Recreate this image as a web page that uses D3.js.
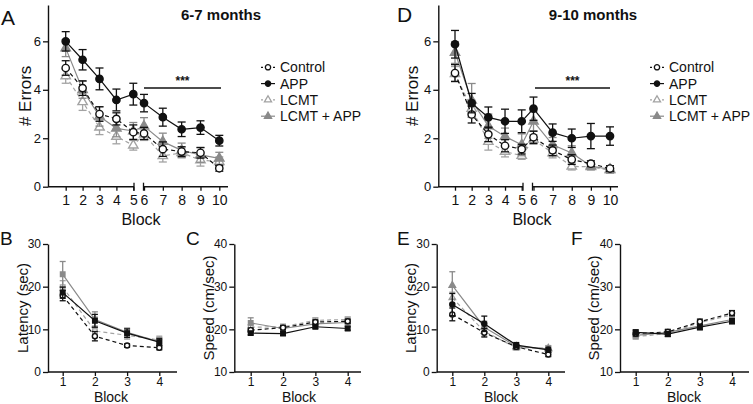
<!DOCTYPE html>
<html><head><meta charset="utf-8">
<script src="https://cdn.jsdelivr.net/npm/d3@7"></script>
<style>body{margin:0;background:#fff;} text{font-family:"Liberation Sans",Arial,sans-serif;fill:#111;}</style>
</head><body><svg id="c" width="753" height="404"></svg>
<script>
// ---------- data ----------
const groups = ["Control", "APP", "LCMT", "LCMT + APP"];
const groupColors = ["#111", "#111", "#a3a3a3", "#8a8a8a"];
const groupDash = ["4,3", null, "4,3", null];
const groupFilled = [false, true, false, true];
const topShapes = ["circle", "circle", "triangle", "triangle"];
const probeShapes = ["circle", "square", "square", "square"];
const drawOrder = [2, 3, 0, 1];

const blocksTraining = [1, 2, 3, 4, 5, 6, 7, 8, 9, 10];
const blocksProbe = [1, 2, 3, 4];
const ticksErrors = [0, 2, 4, 6];
const ticksLatency = [0, 10, 20, 30];
const ticksSpeed = [10, 20, 30, 40];

// Panel A: 6-7 months, # errors
const errA_Control = [4.9, 4.07, 3.0, 2.8, 2.25, 2.2, 1.55, 1.45, 1.4, 0.76];
const errA_APP = [6.0, 5.24, 4.45, 3.58, 3.82, 3.45, 2.87, 2.37, 2.44, 1.9];
const errA_LCMT = [4.57, 3.5, 2.45, 2.07, 1.71, 2.16, 1.27, 1.4, 1.1, 1.03];
const errA_LCMTAPP = [5.72, 4.0, 2.9, 2.41, 2.3, 2.5, 1.86, 1.5, 1.31, 1.17];
const semA_Control = [0.3, 0.3, 0.3, 0.25, 0.3, 0.25, 0.3, 0.2, 0.22, 0.12];
const semA_APP = [0.4, 0.42, 0.45, 0.45, 0.45, 0.36, 0.37, 0.3, 0.28, 0.22];
const semA_LCMT = [0.3, 0.35, 0.3, 0.3, 0.2, 0.25, 0.25, 0.2, 0.25, 0.2];
const semA_LCMTAPP = [0.35, 0.35, 0.4, 0.35, 0.35, 0.35, 0.35, 0.3, 0.3, 0.25];

// Panel D: 9-10 months, # errors
const errD_Control = [4.69, 2.98, 2.16, 1.69, 1.55, 2.04, 1.5, 1.12, 0.95, 0.75];
const errD_APP = [5.88, 3.45, 2.86, 2.7, 2.7, 3.22, 2.23, 2.0, 2.09, 2.09];
const errD_LCMT = [4.66, 3.22, 1.86, 1.45, 1.28, 1.95, 1.39, 0.84, 0.82, 0.68];
const errD_LCMTAPP = [5.54, 3.56, 2.5, 2.07, 1.73, 2.7, 1.73, 1.39, 0.85, 0.72];
const semD_Control = [0.35, 0.35, 0.3, 0.25, 0.2, 0.25, 0.22, 0.2, 0.12, 0.12];
const semD_APP = [0.57, 0.4, 0.43, 0.5, 0.47, 0.48, 0.36, 0.38, 0.52, 0.38];
const semD_LCMT = [0.3, 0.35, 0.35, 0.22, 0.15, 0.2, 0.2, 0.15, 0.12, 0.12];
const semD_LCMTAPP = [0.45, 0.7, 0.5, 0.35, 0.45, 0.4, 0.3, 0.3, 0.15, 0.15];

// Panel B: 6-7 months latency
const latB_Control = [17.9, 8.4, 6.2, 5.7];
const latB_APP = [18.6, 12.0, 9.1, 7.0];
const latB_LCMT = [19.9, 9.6, 8.6, 7.5];
const latB_LCMTAPP = [22.9, 12.3, 9.3, 7.1];
const semB_Control = [1.2, 1.1, 0.4, 0.5];
const semB_APP = [1.3, 1.5, 1.0, 0.8];
const semB_LCMT = [1.5, 1.2, 0.9, 0.9];
const semB_LCMTAPP = [3.0, 1.8, 1.0, 1.0];

// Panel C: 6-7 months speed
const spdC_Control = [19.8, 20.4, 21.7, 21.9];
const spdC_APP = [19.1, 19.0, 20.6, 20.2];
const spdC_LCMT = [20.5, 20.6, 22.1, 22.3];
const spdC_LCMTAPP = [21.5, 20.2, 21.3, 21.6];
const semC_Control = [0.5, 0.5, 0.5, 0.5];
const semC_APP = [0.4, 0.4, 0.4, 0.4];
const semC_LCMT = [0.6, 0.6, 0.6, 0.6];
const semC_LCMTAPP = [1.2, 0.6, 0.6, 0.6];

// Panel E: 9-10 months latency
const latE_Control = [13.5, 9.2, 5.9, 4.1];
const latE_APP = [15.8, 11.3, 6.3, 5.2];
const latE_LCMT = [17.4, 9.5, 5.7, 5.6];
const latE_LCMTAPP = [20.3, 10.5, 6.0, 5.4];
const semE_Control = [1.5, 1.0, 0.5, 0.5];
const semE_APP = [2.6, 1.8, 0.6, 0.6];
const semE_LCMT = [1.3, 1.1, 0.6, 0.6];
const semE_LCMTAPP = [3.2, 1.4, 0.6, 0.7];

// Panel F: 9-10 months speed
const spdF_Control = [19.0, 19.4, 21.8, 23.8];
const spdF_APP = [19.3, 18.9, 20.5, 21.9];
const spdF_LCMT = [18.3, 19.0, 21.6, 23.4];
const spdF_LCMTAPP = [18.6, 19.3, 20.8, 22.3];
const semF_Control = [0.6, 0.6, 0.6, 0.6];
const semF_APP = [0.6, 0.6, 0.6, 0.6];
const semF_LCMT = [0.6, 0.6, 0.6, 0.6];
const semF_LCMTAPP = [0.6, 0.6, 0.6, 0.6];

// ---------- drawing ----------
const svg = d3.select("#c");
const FONT = '"Liberation Sans", Arial, sans-serif';

function symPath(shape, size) {
  const t = shape === "circle" ? d3.symbolCircle : shape === "square" ? d3.symbolSquare : d3.symbolTriangle;
  return d3.symbol().type(t).size(size)();
}

function drawPanel(o) {
  const g = svg.append("g");
  const y = d3.scaleLinear().domain(o.yDomain).range([o.yBottom, o.yTop]);
  const ya = g.append("g").attr("transform", `translate(${o.xAxis},0)`)
    .call(d3.axisLeft(y).tickValues(o.yTicks).tickSize(5).tickPadding(2).tickSizeOuter(0));
  ya.select(".domain").attr("stroke", "#111").attr("stroke-width", 1.4);
  ya.selectAll(".tick line").attr("stroke", "#111").attr("stroke-width", 1.3);
  ya.selectAll(".tick text").attr("font-size", o.yTickFont).attr("font-family", FONT).attr("fill", "#111");
  o.segments.forEach(s => {
    const xa = g.append("g").attr("transform", `translate(0,${o.yBottom})`)
      .call(d3.axisBottom(s.scale).tickValues(s.values).tickSize(4).tickPadding(o.xTickPad).tickFormat(d3.format("d")));
    xa.select(".domain").remove();
    xa.selectAll(".tick line").attr("stroke", "#111").attr("stroke-width", 1.3);
    xa.selectAll(".tick text").attr("font-size", o.xTickFont).attr("font-family", FONT).attr("fill", "#111");
    g.append("line").attr("x1", s.from).attr("x2", s.to).attr("y1", o.yBottom).attr("y2", o.yBottom)
      .attr("stroke", "#111").attr("stroke-width", 1.4);
    (s.breakTicks || []).forEach(bx => {
      g.append("line").attr("x1", bx).attr("x2", bx).attr("y1", o.yBottom - 4).attr("y2", o.yBottom + 4)
        .attr("stroke", "#111").attr("stroke-width", 1.3);
    });
  });
  const xOf = o.xOf;
  drawOrder.forEach(gi => {
    const vals = o.values[gi], sems = o.sems[gi];
    const pts = o.blocks.map((b, i) => ({ b, v: vals[i], s: sems[i] }));
    const col = groupColors[gi];
    const eb = g.append("g").attr("stroke", col).attr("stroke-width", 1.3).attr("fill", "none");
    pts.forEach(p => {
      const x = xOf(p.b);
      eb.append("line").attr("x1", x).attr("x2", x).attr("y1", y(p.v - p.s)).attr("y2", y(p.v + p.s));
      [p.v - p.s, p.v + p.s].forEach(e => {
        eb.append("line").attr("x1", x - o.cap).attr("x2", x + o.cap).attr("y1", y(e)).attr("y2", y(e));
      });
    });
    g.append("path").datum(pts)
      .attr("d", d3.line().x(p => xOf(p.b)).y(p => y(p.v)))
      .attr("fill", "none").attr("stroke", col).attr("stroke-width", 1.2)
      .attr("stroke-dasharray", groupDash[gi]);
    g.selectAll(null).data(pts).enter().append("path")
      .attr("d", symPath(o.shapes[gi], o.shapes[gi] === "triangle" ? o.markerSize * 0.9 : o.markerSize))
      .attr("transform", p => `translate(${xOf(p.b)},${y(p.v)})`)
      .attr("fill", groupFilled[gi] ? col : "#fff")
      .attr("stroke", col).attr("stroke-width", 1.4);
  });
  g.append("text").attr("transform", `translate(${o.yLabelX},${(o.yTop + o.yBottom) / 2}) rotate(-90)`)
    .attr("text-anchor", "middle").attr("dominant-baseline", "central")
    .attr("font-size", o.yLabelFont).text(o.yLabel);
  g.append("text").attr("x", o.xLabelX).attr("y", o.xLabelY).attr("text-anchor", "middle")
    .attr("font-size", o.xLabelFont).text("Block");
  g.append("text").attr("x", o.letterX).attr("y", o.letterY).attr("font-size", o.letterFont).text(o.letter);
  return { g, y };
}

function sigBar(g, x1, x2, yy) {
  g.append("line").attr("x1", x1).attr("x2", x2).attr("y1", yy).attr("y2", yy).attr("stroke", "#111").attr("stroke-width", 1.3);
  g.append("text").attr("x", (x1 + x2) / 2).attr("y", yy - 3).attr("text-anchor", "middle")
    .attr("font-size", 12).attr("font-weight", "bold").text("***");
}

function legend(x, y0) {
  const lg = svg.append("g");
  groups.forEach((name, gi) => {
    const yy = y0 + gi * 16.3;
    lg.append("line").attr("x1", x - 7).attr("x2", x + 7).attr("y1", yy).attr("y2", yy)
      .attr("stroke", groupColors[gi]).attr("stroke-width", 1.2).attr("stroke-dasharray", groupDash[gi] ? "2,2" : null);
    lg.append("path").attr("d", symPath(topShapes[gi], 22)).attr("transform", `translate(${x},${yy})`)
      .attr("fill", groupFilled[gi] ? groupColors[gi] : "#fff").attr("stroke", groupColors[gi]).attr("stroke-width", 1.3);
    lg.append("text").attr("x", x + 12).attr("y", yy).attr("dominant-baseline", "central")
      .attr("font-size", 14).text(name);
  });
}

function splitX(r1a, r1b, r2a, r2b) {
  const s1 = d3.scaleLinear().domain([1, 5]).range([r1a, r1b]);
  const s2 = d3.scaleLinear().domain([6, 10]).range([r2a, r2b]);
  return { s1, s2, f: b => (b <= 5 ? s1(b) : s2(b)) };
}

const topCommon = {
  yDomain: [0, 7.5], yTop: 5, yBottom: 186.7, yTicks: ticksErrors, yTickFont: 13, xTickFont: 14, xTickPad: 4,
  blocks: blocksTraining, cap: 4, markerSize: 42, shapes: topShapes, yLabel: "# Errors", yLabelFont: 17,
  xLabelY: 225, xLabelFont: 16, letterFont: 21
};

// Panel A
const xa = splitX(65.7, 133.3, 144, 219.3);
const pA = drawPanel(Object.assign({}, topCommon, {
  xAxis: 48, xOf: xa.f,
  segments: [
    { scale: xa.s1, values: blocksTraining.slice(0, 5), from: 48, to: 134, breakTicks: [134] },
    { scale: xa.s2, values: blocksTraining.slice(5), from: 143.5, to: 228, breakTicks: [143.5] }
  ],
  values: [errA_Control, errA_APP, errA_LCMT, errA_LCMTAPP],
  sems: [semA_Control, semA_APP, semA_LCMT, semA_LCMTAPP],
  yLabelX: 25, xLabelX: 141, letter: "A", letterX: 1, letterY: 25
}));
sigBar(pA.g, 144, 221, 88);
svg.append("text").attr("x", 221).attr("y", 20).attr("text-anchor", "middle").attr("font-size", 15)
  .attr("font-weight", "bold").text("6-7 months");
legend(268, 67.3);

// Panel D
const xd = splitX(455, 521.7, 533.5, 610);
const pD = drawPanel(Object.assign({}, topCommon, {
  xAxis: 438.3, xOf: xd.f,
  segments: [
    { scale: xd.s1, values: blocksTraining.slice(0, 5), from: 438.3, to: 523, breakTicks: [523] },
    { scale: xd.s2, values: blocksTraining.slice(5), from: 532.5, to: 618, breakTicks: [532.5] }
  ],
  values: [errD_Control, errD_APP, errD_LCMT, errD_LCMTAPP],
  sems: [semD_Control, semD_APP, semD_LCMT, semD_LCMTAPP],
  yLabelX: 412, xLabelX: 532, letter: "D", letterX: 397, letterY: 22
}));
sigBar(pD.g, 535, 610, 88);
svg.append("text").attr("x", 593).attr("y", 20).attr("text-anchor", "middle").attr("font-size", 15)
  .attr("font-weight", "bold").text("9-10 months");
legend(657, 67.3);

// Bottom panels
const botCommon = {
  yTop: 244, yBottom: 372, yTickFont: 12, xTickFont: 12, xTickPad: 1, blocks: blocksProbe, cap: 3,
  markerSize: 20, yLabelFont: 15, xLabelY: 402, xLabelFont: 14, letterFont: 19, letterY: 245
};
function probeX(a, b) { return d3.scaleLinear().domain([1, 4]).range([a, b]); }

const xb = probeX(62.7, 159.3);
drawPanel(Object.assign({}, botCommon, {
  yDomain: [0, 30], yTicks: ticksLatency, xAxis: 48, xOf: xb,
  segments: [{ scale: xb, values: blocksProbe, from: 48, to: 177 }],
  values: [latB_Control, latB_APP, latB_LCMT, latB_LCMTAPP],
  sems: [semB_Control, semB_APP, semB_LCMT, semB_LCMTAPP], shapes: probeShapes,
  yLabel: "Latency (sec)", yLabelX: 22, xLabelX: 111, letter: "B", letterX: 0
}));

const xc = probeX(250.7, 347.7);
drawPanel(Object.assign({}, botCommon, {
  yDomain: [10, 40], yTicks: ticksSpeed, xAxis: 234.3, xOf: xc,
  segments: [{ scale: xc, values: blocksProbe, from: 234.3, to: 361 }],
  values: [spdC_Control, spdC_APP, spdC_LCMT, spdC_LCMTAPP],
  sems: [semC_Control, semC_APP, semC_LCMT, semC_LCMTAPP], shapes: probeShapes,
  yLabel: "Speed (cm/sec)", yLabelX: 208, xLabelX: 299, letter: "C", letterX: 186
}));

const xe = probeX(452.3, 548.3);
drawPanel(Object.assign({}, botCommon, {
  yDomain: [0, 30], yTicks: ticksLatency, xAxis: 436.7, xOf: xe,
  segments: [{ scale: xe, values: blocksProbe, from: 436.7, to: 565 }],
  values: [latE_Control, latE_APP, latE_LCMT, latE_LCMTAPP],
  sems: [semE_Control, semE_APP, semE_LCMT, semE_LCMTAPP], shapes: topShapes,
  yLabel: "Latency (sec)", yLabelX: 410, xLabelX: 501, letter: "E", letterX: 397
}));

const xf = probeX(635.7, 732);
drawPanel(Object.assign({}, botCommon, {
  yDomain: [10, 40], yTicks: ticksSpeed, xAxis: 620, xOf: xf,
  segments: [{ scale: xf, values: blocksProbe, from: 620, to: 749 }],
  values: [spdF_Control, spdF_APP, spdF_LCMT, spdF_LCMTAPP],
  sems: [semF_Control, semF_APP, semF_LCMT, semF_LCMTAPP], shapes: probeShapes,
  yLabel: "Speed (cm/sec)", yLabelX: 593, xLabelX: 684, letter: "F", letterX: 571
}));
</script></body></html>
